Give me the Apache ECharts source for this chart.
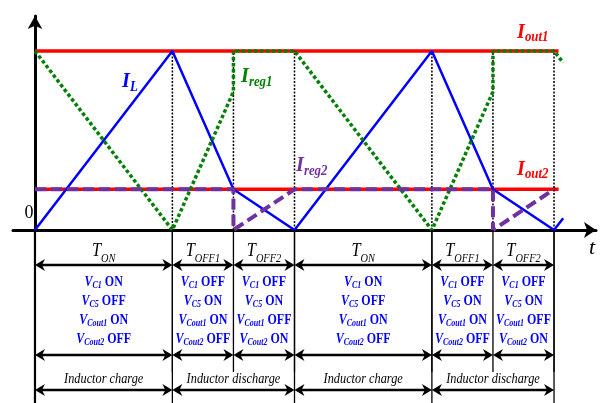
<!DOCTYPE html>
<html>
<head>
<meta charset="utf-8">
<script src="https://cdn.jsdelivr.net/npm/echarts@6/dist/echarts.min.js"></script>
<style>
html,body{margin:0;padding:0;background:#fff}
#chart{width:606px;height:403px}
</style>
</head>
<body>
<div id="chart"></div>
<script>
// Switching instants over two periods (time units)
const phaseTimes = [0, 9, 13, 17, 26, 30, 34];
// Output current levels
const iOut1 = 4.4;
const iOut2 = 1.0;
const outputEnd = 34.3;
// Inductor current
const inductorCurrent = [[0, 0], [9, 4.4], [13, 1.0], [17, 0], [26, 4.4], [30, 1.0], [34, 0], [34.6, 0.29]];
// Regulator currents
const regCurrent1 = [[0, 4.4], [9, 0], [13, 3.4], [13, 4.4], [17, 4.4], [26, 0], [30, 3.4], [30, 4.4], [34, 4.4], [34.6, 4.11]];
const regCurrent2 = [[0, 1.0], [13, 1.0], [13, 0], [17, 1.0], [30, 1.0], [30, 0], [34, 1.0]];
// Phase names and switch states per phase
const phaseSubs = ['ON', 'OFF1', 'OFF2', 'ON', 'OFF1', 'OFF2'];
const stateC1 = ['ON', 'OFF', 'OFF', 'ON', 'OFF', 'OFF'];
const stateC5 = ['OFF', 'ON', 'ON', 'OFF', 'ON', 'ON'];
const stateCout1 = ['ON', 'ON', 'OFF', 'ON', 'ON', 'OFF'];
const stateCout2 = ['OFF', 'OFF', 'ON', 'OFF', 'OFF', 'ON'];
// Inductor modes
const modeStart = [0, 9, 17, 26];
const modeEnd = [9, 17, 26, 34];
const modeNames = ['Inductor charge', 'Inductor discharge', 'Inductor charge', 'Inductor discharge'];

const SERIF = "'Liberation Serif', 'Times New Roman', serif";
const BLUE = '#0000ff';
const GREEN = '#008000';
const PURPLE = '#7030a0';
const RED = '#ff0000';

const chart = echarts.init(document.getElementById('chart'));

function doubleArrow(xa, xb, y) {
  const L = 10, H = 6, N = 7;
  return [
    { type: 'line', shape: { x1: xa + 3, y1: y, x2: xb - 3, y2: y }, style: { stroke: '#000', lineWidth: 2.5 } },
    { type: 'polygon', shape: { points: [[xa, y], [xa + L, y - H], [xa + N, y], [xa + L, y + H]] }, style: { fill: '#000' } },
    { type: 'polygon', shape: { points: [[xb, y], [xb - L, y - H], [xb - N, y], [xb - L, y + H]] }, style: { fill: '#000' } }
  ];
}

// condensed serif text: drawn wider, then squeezed horizontally
const stateRich = {
  v: { fontFamily: SERIF, fontSize: 15, fontWeight: 'bold', fontStyle: 'italic', fill: BLUE },
  s: { fontFamily: SERIF, fontSize: 10, fontWeight: 'bold', fontStyle: 'italic', fill: BLUE, padding: [7, 0, 0, 0] },
  b: { fontFamily: SERIF, fontSize: 15, fontWeight: 'bold', fill: BLUE }
};
const phaseRich = {
  t: { fontFamily: SERIF, fontSize: 19, fontStyle: 'italic', fill: '#000' },
  s: { fontFamily: SERIF, fontSize: 12, fontStyle: 'italic', fill: '#000', padding: [15, 0, 0, 0] }
};

function phaseItem(params, api) {
  const i = api.value(2);
  const x0 = api.coord([api.value(0), 0])[0];
  const x1 = api.coord([api.value(1), 0])[0];
  const yb = api.coord([0, 0])[1];
  const xm = (x0 + x1) / 2;
  const lines = [
    ['C1', stateC1[i]], ['C5', stateC5[i]], ['Cout1', stateCout1[i]], ['Cout2', stateCout2[i]]
  ];
  const offs = [52, 71, 90, 109];
  const children = [
    { type: 'line', shape: { x1: x1, y1: yb, x2: x1, y2: yb + 142 }, style: { stroke: '#000', lineWidth: 1.3 } },
    ...doubleArrow(x0, x1, yb + 35),
    ...doubleArrow(x0, x1, yb + 125),
    { type: 'text', x: xm, y: yb + 21, scaleX: 0.86,
      style: { x: 0, y: 0, align: 'center', verticalAlign: 'middle',
        text: '{t|T}{s|' + phaseSubs[i] + '}', rich: phaseRich } }
  ];
  lines.forEach((ln, k) => {
    children.push({ type: 'text', x: xm, y: yb + offs[k], scaleX: 0.8,
      style: { x: 0, y: 0, align: 'center', verticalAlign: 'middle',
        text: '{v|V}{s|' + ln[0] + '}{b| ' + ln[1] + '}', rich: stateRich } });
  });
  return { type: 'group', children: children };
}

function modeItem(params, api) {
  const i = api.value(2);
  const x0 = api.coord([api.value(0), 0])[0];
  const x1 = api.coord([api.value(1), 0])[0];
  const yb = api.coord([0, 0])[1];
  const children = [
    { type: 'line', shape: { x1: x1, y1: yb, x2: x1, y2: yb + 175 }, style: { stroke: '#000', lineWidth: 1.3 } },
    ...doubleArrow(x0, x1, yb + 160),
    { type: 'text', x: (x0 + x1) / 2, y: yb + 149, scaleX: 0.88,
      style: { x: 0, y: 0, align: 'center', verticalAlign: 'middle',
        text: modeNames[i], font: 'italic 14px ' + SERIF, fill: '#000' } }
  ];
  if (i === 0) {
    children.push({ type: 'line', shape: { x1: x0, y1: yb, x2: x0, y2: yb + 175 }, style: { stroke: '#000', lineWidth: 2.2 } });
  }
  return { type: 'group', children: children };
}

function guideItem(params, api) {
  const p0 = api.coord([api.value(0), 0]);
  const p1 = api.coord([api.value(0), iOut1]);
  return { type: 'line', shape: { x1: p0[0], y1: p0[1], x2: p1[0], y2: p1[1] },
    style: { stroke: '#000', lineWidth: 1.5, lineDash: [2, 1.5] } };
}

function curveLabel(x, y, main, sub, color, pad) {
  return {
    type: 'text', x: x, y: y, z: 100, scaleX: 0.92,
    style: {
      text: '{m|' + main + '}{s|' + sub + '}', align: 'left', verticalAlign: 'middle',
      rich: {
        m: { fontFamily: SERIF, fontSize: 22, fontWeight: 'bold', fontStyle: 'italic', fill: color },
        s: { fontFamily: SERIF, fontSize: 14, fontWeight: 'bold', fontStyle: 'italic', fill: color, padding: [pad, 0, 0, 0] }
      }
    }
  };
}

const option = {
  animation: false,
  backgroundColor: '#fff',
  grid: { left: 13, right: 10, top: 16, bottom: 173 },
  xAxis: {
    type: 'value', min: -1.44, max: 36.75,
    axisLine: { show: true, onZero: true, symbol: ['none', 'arrow'], symbolSize: [12, 12], lineStyle: { color: '#000', width: 3 } },
    axisTick: { show: false }, axisLabel: { show: false }, splitLine: { show: false }
  },
  yAxis: {
    type: 'value', min: 0, max: 5.26,
    axisLine: { show: true, onZero: true, symbol: ['none', 'arrow'], symbolSize: [11, 13], lineStyle: { color: '#000', width: 3 } },
    axisTick: { show: false }, axisLabel: { show: false }, splitLine: { show: false }
  },
  series: [
    { name: 'Iout1', type: 'line', symbol: 'none', z: 2, silent: true,
      data: [[0, iOut1], [outputEnd, iOut1]], lineStyle: { color: RED, width: 3.5 } },
    { name: 'Iout2', type: 'line', symbol: 'none', z: 2, silent: true,
      data: [[0, iOut2], [outputEnd, iOut2]], lineStyle: { color: RED, width: 3.5 } },
    { name: 'guides', type: 'custom', z: 3, silent: true,
      data: phaseTimes.slice(1).map(t => [t]), renderItem: guideItem },
    { name: 'IL', type: 'line', symbol: 'none', z: 4, silent: true,
      data: inductorCurrent, lineStyle: { color: BLUE, width: 2.5 } },
    { name: 'Ireg1', type: 'line', symbol: 'none', z: 5, silent: true,
      data: regCurrent1, lineStyle: { color: GREEN, width: 3.5, type: [3.5, 2.5] } },
    { name: 'Ireg2', type: 'line', symbol: 'none', z: 6, silent: true,
      data: regCurrent2, lineStyle: { color: PURPLE, width: 4, type: [11, 5] } },
    { name: 'phases', type: 'custom', z: 7, silent: true, clip: false,
      data: phaseSubs.map((s, i) => [phaseTimes[i], phaseTimes[i + 1], i]), renderItem: phaseItem },
    { name: 'modes', type: 'custom', z: 7, silent: true, clip: false,
      data: modeNames.map((s, i) => [modeStart[i], modeEnd[i], i]), renderItem: modeItem }
  ],
  graphic: [
    curveLabel(122, 81, 'I', 'L', BLUE, 13),
    curveLabel(241, 76.5, 'I', 'reg1', GREEN, 12),
    curveLabel(296, 165.5, 'I', 'reg2', PURPLE, 12),
    curveLabel(517, 32.5, 'I', 'out1', RED, 10),
    curveLabel(517, 169.5, 'I', 'out2', RED, 10),
    { type: 'text', x: 29, y: 213, style: { text: '0', align: 'center', verticalAlign: 'middle', font: '18px ' + SERIF, fill: '#000' } },
    { type: 'text', x: 592, y: 248, style: { text: 't', align: 'center', verticalAlign: 'middle', font: 'italic 22px ' + SERIF, fill: '#000' } }
  ]
};

chart.setOption(option);
</script>
</body>
</html>
